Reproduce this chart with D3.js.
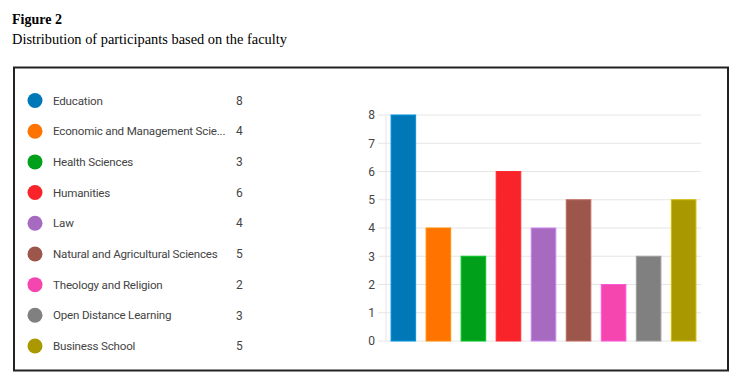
<!DOCTYPE html>
<html>
<head>
<meta charset="utf-8">
<script src="https://cdn.jsdelivr.net/npm/d3@7"></script>
<style>
  body { margin: 0; background: #fff; }
  svg { display: block; }
</style>
</head>
<body>
<svg id="chart" width="739" height="379"></svg>
<script>
const faculties = [
    "Education",
    "Economic and Management Sciences",
    "Health Sciences",
    "Humanities",
    "Law",
    "Natural and Agricultural Sciences",
    "Theology and Religion",
    "Open Distance Learning",
    "Business School"
];
const participants = [8, 4, 3, 6, 4, 5, 2, 3, 5];
const colors = ["#0078b7", "#ff7300", "#00a01b", "#f9232a", "#a66bc1",
    "#9c564b", "#f546b0", "#808080", "#aa9800"];
const yTicks = [0, 1, 2, 3, 4, 5, 6, 7, 8];

const svg = d3.select("#chart");
const uiFont = "Roboto, 'Open Sans', sans-serif";

// caption
svg.append("text")
    .attr("x", 12).attr("y", 24)
    .style("font", "bold 14px 'Liberation Serif', serif")
    .text("Figure 2");
svg.append("text")
    .attr("x", 12).attr("y", 44)
    .style("font", "14.4px 'Liberation Serif', serif")
    .text("Distribution of participants based on the faculty");

// frame
svg.append("rect")
    .attr("x", 14).attr("y", 67.5)
    .attr("width", 714).attr("height", 303)
    .attr("fill", "none")
    .attr("stroke", "#222")
    .attr("stroke-width", 2);

// legend
const legendY = d3.scalePoint().domain(d3.range(faculties.length)).range([100.5, 346]);
const legend = svg.append("g");
const rows = legend.selectAll("g")
    .data(faculties)
    .join("g")
    .attr("transform", (d, i) => `translate(0, ${legendY(i)})`);

rows.append("circle")
    .attr("cx", 35).attr("r", 7.5)
    .attr("fill", (d, i) => colors[i]);

rows.append("text")
    .attr("x", 53).attr("dy", "0.35em")
    .style("font", `11.6px ${uiFont}`)
    .style("letter-spacing", "-0.2px")
    .attr("fill", "#444")
    .text((d) => d)
    .each(function (d) {
        const el = d3.select(this);
        const maxW = 174;
        if (this.getComputedTextLength() <= maxW) return;
        let s = d;
        while (s.length && this.getComputedTextLength() > maxW) {
            s = s.slice(0, -1);
            el.text(s.trimEnd() + "...");
        }
    });

rows.append("text")
    .attr("x", 236).attr("dy", "0.35em")
    .style("font", `12px ${uiFont}`)
    .attr("fill", "#444")
    .text((d, i) => participants[i]);

// bar chart
const x = d3.scaleBand()
    .domain(faculties)
    .range([386, 701])
    .paddingInner(0.27)
    .paddingOuter(0.13);
const y = d3.scaleLinear().domain([0, 8]).range([341, 115]);

svg.append("g")
    .selectAll("line")
    .data(yTicks)
    .join("line")
    .attr("x1", 378).attr("x2", 701)
    .attr("y1", (d) => y(d)).attr("y2", (d) => y(d))
    .attr("stroke", "#e6e6e6");

svg.append("line")
    .attr("x1", 386).attr("x2", 386)
    .attr("y1", y(8)).attr("y2", y(0))
    .attr("stroke", "#e6e6e6");

const yAxis = svg.append("g")
    .attr("transform", "translate(378, 0)")
    .call(d3.axisLeft(y).tickValues(yTicks).tickSize(0).tickPadding(3));
yAxis.select(".domain").remove();
yAxis.selectAll("text")
    .style("font", `12px ${uiFont}`)
    .attr("fill", "#444");

svg.append("g")
    .selectAll("rect")
    .data(faculties)
    .join("rect")
    .attr("x", (d) => x(d) + 0.5)
    .attr("y", (d, i) => y(participants[i]))
    .attr("width", x.bandwidth() - 1)
    .attr("height", (d, i) => y(0) - y(participants[i]))
    .attr("fill", (d, i) => colors[i])
    .attr("stroke", (d, i) => d3.color(colors[i]).brighter(0.6))
    .attr("stroke-width", 1);
</script>
</body>
</html>
